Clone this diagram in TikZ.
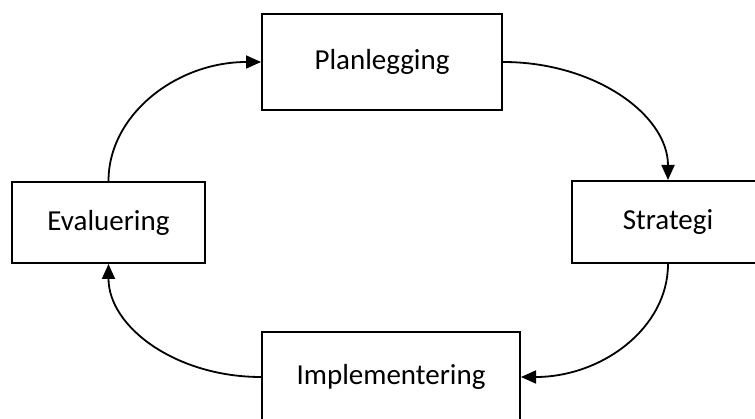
\documentclass[tikz,border=0pt]{standalone}
\usepackage{fontspec}
\setmainfont{Carlito}
\usetikzlibrary{arrows.meta}
\begin{document}
\begin{tikzpicture}[x=1pt,y=-1pt,
  stage/.style={draw=black,line width=2pt,fill=white,inner sep=0pt,
    font=\fontsize{29}{34}\selectfont},
  flow/.style={line width=1.8pt,-{Triangle[length=15pt,width=13pt]}}]
\useasboundingbox (0,0) rectangle (755,419);
\clip (0,0) rectangle (755,419);
\node[stage,minimum width=240pt,minimum height=96pt] (pl) at (382,62) {Planlegging};
\node[stage,minimum width=192pt,minimum height=82pt] (st) at (668,222) {Strategi};
\node[stage,minimum width=193pt,minimum height=81pt] (ev) at (108.5,222.5) {Evaluering};
\node[stage,minimum width=258pt,minimum height=90pt] (im) at (391,377) {Implementering};
\draw[flow] (ev.north) .. controls +(0,-66) and +(-85,0) .. (pl.west);
\draw[flow] (pl.east) .. controls +(92,0) and +(0,-65) .. (st.north);
\draw[flow] (st.south) .. controls +(0,64) and +(81,0) .. (im.east);
\draw[flow] (im.west) .. controls +(-85,0) and +(0,63) .. (ev.south);
\end{tikzpicture}
\end{document}
